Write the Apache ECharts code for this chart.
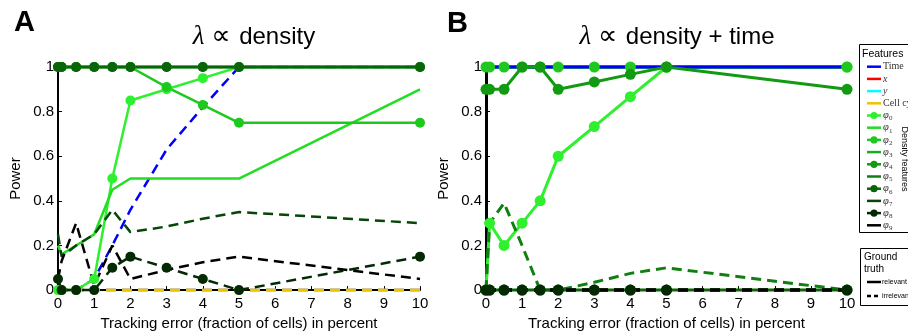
<!DOCTYPE html>
<html><head><meta charset="utf-8">
<script src="https://cdn.jsdelivr.net/npm/echarts@6/dist/echarts.min.js"></script>
<style>html,body{margin:0;padding:0;background:#fff}#c{width:908px;height:336px}</style>
</head><body><div id="c"></div>
<script>
// ---- data ----
const xVals = [0, 0.1, 0.5, 1, 1.5, 2, 3, 4, 5, 10];
const xTicks = [0,1,2,3,4,5,6,7,8,9,10];
const yTicks = [0,0.2,0.4,0.6,0.8,1];
const seriesNames = ['Time','x','y','Cell cycle','φ0','φ1','φ2','φ3','φ4','φ5','φ6','φ7','φ8','φ9'];

// Panel A : lambda ~ density
const aTime = [0,0,0,0.05,0.2,0.36,0.63,0.82,1,1];
const aX    = [0,0,0,0,0,0,0,0,0,0];
const aY    = [0,0,0,0,0,0,0,0,0,0];
const aCell = [0,0,0,0,0,0,0,0,0,0];
const aPhi0 = [0,0,0,0.05,0.5,0.85,0.9,0.95,1,1];
const aPhi1 = [0.2,0.16,0.2,0.25,0.45,0.5,0.5,0.5,0.5,0.9];
const aPhi2 = [1,1,1,1,1,1,0.91,0.83,0.75,0.75];
const aPhi3 = [1,1,1,1,1,1,1,1,1,1];
const aPhi4 = [1,1,1,1,1,1,1,1,1,1];
const aPhi5 = [1,1,1,1,1,1,1,1,1,1];
const aPhi6 = [1,1,1,1,1,1,1,1,1,1];
const aPhi7 = [0.25,0.15,0.2,0.25,0.36,0.26,0.285,0.32,0.35,0.3];
const aPhi8 = [0.05,0,0,0,0.1,0.15,0.1,0.05,0,0.15];
const aPhi9 = [0.05,0.13,0.3,0.02,0.2,0.05,0.09,0.125,0.15,0.05];

// Panel B : lambda ~ density + time
const bTime = [1,1,1,1,1,1,1,1,1,1];
const bX    = [0,0,0,0,0,0,0,0,0,0];
const bY    = [0,0,0,0,0,0,0,0,0,0];
const bCell = [0,0,0,0,0,0,0,0,0,0];
const bPhi0 = [0,0.3,0.2,0.3,0.4,0.6,0.733,0.867,1,1];
const bPhi1 = [1,1,1,1,1,1,1,1,1,1];
const bPhi2 = [1,1,1,1,1,1,1,1,1,1];
const bPhi3 = [1,1,1,1,1,1,1,1,1,1];
const bPhi4 = [0.9,0.9,0.9,1,1,0.9,0.933,0.967,1,0.9];
const bPhi5 = [0,0.3,0.39,0.2,0,0,0.035,0.075,0.1,0];
const bPhi6 = [0,0,0,0,0,0,0,0,0,0];
const bPhi7 = [0,0,0,0,0,0,0,0,0,0];
const bPhi8 = [0,0,0,0,0,0,0,0,0,0];
const bPhi9 = [0,0,0,0,0,0,0,0,0,0];

// ---- styles ----
const colors = ['#0000ff','#ff0000','#00ffff','#f2c200','#2ef02e','#22dd22','#1ec81e','#18b018','#129a12','#0f800f','#0a640a','#064606','#032a03','#000000'];
const hasMarker = [false,false,false,false,true,false,true,false,true,false,true,false,true,false];
const dashA = [true,true,true,true,false,false,false,false,false,false,false,true,true,true];
const dashB = [false,true,true,true,false,false,false,false,false,true,false,true,true,true];
const dataA = [aTime,aX,aY,aCell,aPhi0,aPhi1,aPhi2,aPhi3,aPhi4,aPhi5,aPhi6,aPhi7,aPhi8,aPhi9];
const dataB = [bTime,bX,bY,bCell,bPhi0,bPhi1,bPhi2,bPhi3,bPhi4,bPhi5,bPhi6,bPhi7,bPhi8,bPhi9];
const orderA = [0,1,2,3,4,5,6,7,8,9,10,11,12,13];
const orderB = [1,2,3,4,5,6,7,0,8,9,10,11,12,13];

const FONT = 'Liberation Sans';
const DASH = [10,6];

function mkSeries(panel, data, dash, order, symSize, lw) {
  return order.map(i => ({
    type: 'line', name: seriesNames[i], xAxisIndex: panel, yAxisIndex: panel,
    data: xVals.map((x, k) => [x, data[i][k]]),
    symbol: hasMarker[i] ? 'circle' : 'none', symbolSize: symSize, showSymbol: hasMarker[i],
    itemStyle: { color: colors[i] },
    lineStyle: { color: colors[i], width: lw, type: dash[i] ? DASH : 'solid' },
    clip: false, animation: false, silent: true
  }));
}

function xAxisCfg(idx) {
  return {
    type: 'value', gridIndex: idx, min: 0, max: 10, interval: 1,
    name: 'Tracking error (fraction of cells) in percent', nameLocation: 'middle', nameGap: 25,
    nameTextStyle: { fontFamily: FONT, fontSize: 15, color: '#000' },
    axisLine: { show: true, lineStyle: { color: '#000', width: 2 } },
    axisTick: { show: true, inside: true, length: 4, lineStyle: { color: '#000', width: 1 } },
    axisLabel: { fontFamily: FONT, fontSize: 15, color: '#000', margin: 6 },
    splitLine: { show: false }
  };
}
function yAxisCfg(idx, lw) {
  return {
    type: 'value', gridIndex: idx, min: 0, max: 1, interval: 0.2,
    name: 'Power', nameLocation: 'middle', nameGap: 35,
    nameTextStyle: { fontFamily: FONT, fontSize: 15, color: '#000' },
    axisLine: { show: true, lineStyle: { color: '#000', width: lw } },
    axisTick: { show: true, inside: true, length: 4, lineStyle: { color: '#000', width: 1 } },
    axisLabel: { fontFamily: FONT, fontSize: 15, color: '#000', margin: 4 },
    splitLine: { show: false }
  };
}

// legend graphics
const graphics = [];
function title(x, text) {
  graphics.push({ type: 'text', x: x, y: 37, style: {
    text: text, align: 'center', verticalAlign: 'middle',
    rich: {
      l: { fontFamily: 'Liberation Serif', fontStyle: 'italic', fontSize: 27 },
      p: { fontFamily: 'DejaVu Sans', fontSize: 27 },
      d: { fontFamily: FONT, fontSize: 24 }
    }
  }});
}
graphics.push({ type: 'text', x: 14, y: 23, style: { text: 'A', fontFamily: FONT, fontWeight: 'bold', fontSize: 29, fill: '#000', verticalAlign: 'middle' } });
graphics.push({ type: 'text', x: 447, y: 24, style: { text: 'B', fontFamily: FONT, fontWeight: 'bold', fontSize: 29, fill: '#000', verticalAlign: 'middle' } });
title(254, '{l|λ }{p|∝ }{d|density}');
title(677, '{l|λ }{p|∝ }{d|density + time}');

graphics.push({ type: 'rect', shape: { x: 859.5, y: 44.5, width: 60, height: 188 }, style: { fill: '#fff', stroke: '#000', lineWidth: 1 } });
graphics.push({ type: 'text', x: 862, y: 54, style: { text: 'Features', fontFamily: FONT, fontSize: 10.5, fill: '#000', verticalAlign: 'middle' } });
seriesNames.forEach((nm, i) => {
  const yy = 66.7 + i * 12.2;
  graphics.push({ type: 'line', shape: { x1: 867, y1: yy, x2: 881, y2: yy }, style: { stroke: colors[i], lineWidth: 2.5 } });
  if (hasMarker[i]) graphics.push({ type: 'circle', shape: { cx: 874, cy: yy, r: 3.6 }, style: { fill: colors[i] } });
  if (i >= 4) {
    graphics.push({ type: 'text', x: 883, y: yy, style: { text: 'φ', fontFamily: 'Liberation Serif', fontStyle: 'italic', fontSize: 10.5, fill: '#333', verticalAlign: 'middle' } });
    graphics.push({ type: 'text', x: 889, y: yy + 3, style: { text: nm.slice(1), fontFamily: 'Liberation Serif', fontSize: 7, fill: '#333', verticalAlign: 'middle' } });
  } else {
    const it = (i === 1 || i === 2);
    graphics.push({ type: 'text', x: 883, y: yy, style: { text: nm, fontFamily: 'Liberation Serif', fontStyle: it ? 'italic' : 'normal', fontSize: 10, fill: '#333', verticalAlign: 'middle' } });
  }
});
graphics.push({ type: 'text', x: 904, y: 159, rotation: -Math.PI / 2, style: { text: 'Density features', fontFamily: FONT, fontSize: 9, fill: '#000', align: 'center', verticalAlign: 'middle' } });

graphics.push({ type: 'rect', shape: { x: 860.5, y: 248.5, width: 60, height: 57 }, style: { fill: '#fff', stroke: '#000', lineWidth: 1 } });
graphics.push({ type: 'text', x: 864, y: 257, style: { text: 'Ground', fontFamily: FONT, fontSize: 10, fill: '#000', verticalAlign: 'middle' } });
graphics.push({ type: 'text', x: 864, y: 269, style: { text: 'truth', fontFamily: FONT, fontSize: 10, fill: '#000', verticalAlign: 'middle' } });
graphics.push({ type: 'line', shape: { x1: 867, y1: 282, x2: 881, y2: 282 }, style: { stroke: '#000', lineWidth: 2.5 } });
graphics.push({ type: 'text', x: 882, y: 282, style: { text: 'relevant', fontFamily: FONT, fontSize: 7, fill: '#000', verticalAlign: 'middle' } });
graphics.push({ type: 'line', shape: { x1: 867, y1: 296, x2: 881, y2: 296 }, style: { stroke: '#000', lineWidth: 2.5, lineDash: [4, 3] } });
graphics.push({ type: 'text', x: 882, y: 296, style: { text: 'irrelevant', fontFamily: FONT, fontSize: 7, fill: '#000', verticalAlign: 'middle' } });

const option = {
  animation: false,
  backgroundColor: '#fff',
  grid: [
    { left: 58, top: 67, width: 362, height: 225 },
    { left: 486, top: 67, width: 361, height: 225 }
  ],
  xAxis: [xAxisCfg(0), xAxisCfg(1)],
  yAxis: [yAxisCfg(0, 2), yAxisCfg(1, 3)],
  series: [].concat(mkSeries(0, dataA, dashA, orderA, 10, 2.5), mkSeries(1, dataB, dashB, orderB, 11, 3)),
  graphic: graphics
};
const chart = echarts.init(document.getElementById('c'), null, { renderer: 'canvas' });
chart.setOption(option);
</script></body></html>
